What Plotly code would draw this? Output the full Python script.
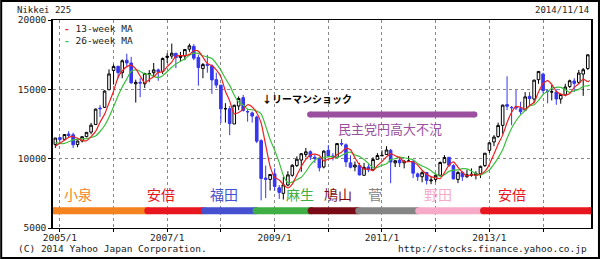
import pandas as pd
import plotly.graph_objects as go

# ---------------- data ----------------
months = pd.date_range("2004-12-01", "2014-11-01", freq="MS")  # monthly candles

open_ = [
    11030,
    11517, 11394, 11771, 11723, 11015, 11280, 11591, 11913, 12461, 13651, 13700, 14970,
    16361, 16660, 16200, 17100, 16900, 15400, 15500, 15400, 16100, 16200, 16400, 16300,
    17300, 17400, 17600, 17300, 17400, 17900, 18100, 17300, 16500, 16800, 16700, 15700,
    15300, 13600, 13600, 12500, 13800, 14400, 13400, 13300, 13000, 11300, 8600, 8500,
    8900, 7900, 7500, 8100, 8800, 9500, 9900, 10300, 10500, 10100, 10000, 9400,
    10600, 10200, 10100, 11100, 11000, 9700, 9400, 9500, 8800, 9400, 9200, 9950,
    10200, 10300, 10600, 9700, 9900, 9700, 9800, 9800, 8900, 8700, 9000, 8400,
    8500, 8800, 9700, 10100, 9500, 8500, 9000, 8700, 8800, 8800, 8900, 9500,
    10600, 11200, 11600, 12400, 13900, 13700, 13700, 13600, 13500, 14500, 14300, 15700,
    16100, 14900, 14800, 14800, 14300, 14600, 15200, 15600, 15500, 16100, 16500,
]
high = [
    11488,
    11573, 11741, 11975, 11874, 11301, 11611, 11911, 12580, 13617, 13862, 14945, 16445,
    16798, 16700, 17156, 17563, 17339, 15700, 15800, 16200, 16385, 16900, 16500, 17300,
    17617, 18300, 17600, 17700, 17900, 18297, 18261, 17500, 16900, 17488, 16800, 16200,
    15300, 14000, 13800, 13900, 14489, 14600, 13600, 13400, 13100, 11400, 9500, 8900,
    9300, 8100, 8700, 9100, 9600, 10170, 10400, 10767, 10600, 10300, 10100, 10600,
    10982, 10400, 11100, 11408, 11100, 10238, 9800, 9700, 9700, 9600, 10100, 10400,
    10600, 10900, 10700, 9900, 10100, 9900, 10200, 9900, 9000, 9100, 9000, 8700,
    8900, 9800, 10255, 10100, 9600, 9100, 9100, 9200, 9300, 9100, 9500, 10400,
    11200, 11700, 12600, 13900, 15943, 13800, 14953, 14100, 14800, 14800, 15700, 16320,
    16200, 14900, 15300, 15000, 14700, 15400, 15700, 15800, 16400, 16533, 17520,
]
low = [
    10776,
    11238, 11355, 11561, 10770, 10825, 11167, 11541, 11754, 12438, 13012, 13650, 14950,
    15341, 15800, 15800, 16655, 15400, 14045, 14437, 15100, 15513, 15950, 15615, 16100,
    16900, 17200, 16532, 17000, 17100, 17700, 17100, 15262, 15800, 16200, 14669, 15100,
    12573, 12600, 11691, 12500, 13500, 13400, 12671, 12600, 11120, 6994, 7162, 7700,
    7700, 7100, 7054, 8000, 8700, 9400, 9050, 10100, 9900, 9700, 9076, 9300,
    10100, 9867, 10050, 10900, 9400, 9300, 9091, 8807, 8800, 9027, 9100, 9950,
    10200, 10300, 8227, 9400, 9400, 9300, 9800, 8600, 8400, 8300, 8135, 8160,
    8300, 8800, 9700, 9400, 8500, 8238, 8400, 8600, 8700, 8500, 8600, 9400,
    10400, 10900, 11500, 11800, 13500, 12415, 13500, 13188, 13500, 13800, 14000, 15400,
    14700, 13995, 14200, 13885, 13964, 14500, 15100, 14800, 15400, 14529, 16400,
]
close = [
    11488,
    11387, 11740, 11668, 11008, 11276, 11584, 11899, 12413, 13574, 13606, 14872, 16111,
    16650, 16205, 17059, 16906, 15467, 15505, 15456, 16140, 16127, 16399, 16274, 17225,
    17383, 17604, 17287, 17400, 17875, 18138, 17248, 16569, 16785, 16737, 15680, 15307,
    13592, 13603, 12525, 13849, 14338, 13481, 13376, 13072, 11259, 8576, 8512, 8859,
    7994, 7568, 8109, 8828, 9522, 9958, 10356, 10492, 10133, 10034, 9345, 10546,
    10198, 10126, 11089, 11057, 9768, 9382, 9537, 8824, 9369, 9202, 9937, 10228,
    10237, 10624, 9755, 9849, 9693, 9816, 9833, 8955, 8700, 8988, 8434, 8455,
    8802, 9723, 10083, 9520, 8542, 9007, 8695, 8840, 8870, 8928, 9446, 10395,
    11139, 11559, 12398, 13861, 13775, 13677, 13668, 13389, 14456, 14328, 15662, 16291,
    14915, 14841, 14828, 14304, 14632, 15162, 15621, 15425, 16174, 16414, 17490,
]

# moving-average lines, one point per month end
ma_dates = list(pd.date_range("2004-12-01", "2014-11-01", freq="MS")) + [pd.Timestamp("2014-11-14")]
ma13 = [
    10893, 11115,
    11320, 11538, 11598, 11472, 11317, 11289, 11586, 11965, 12629, 13198, 14017, 14863,
    15878, 16322, 16638, 16723, 16477, 15959, 15476, 15700, 15908, 16222, 16267, 16633,
    16961, 17404, 17425, 17430, 17521, 17804, 17754, 17318, 16867, 16697, 16401, 15908,
    14860, 14167, 13240, 13326, 13571, 13889, 13732, 13310, 12569, 10969, 9449, 8649,
    8455, 8140, 7890, 8168, 8820, 9436, 9945, 10269, 10327, 10220, 9837, 9975,
    10030, 10290, 10471, 10757, 10638, 10069, 9562, 9248, 9243, 9132, 9503, 9789,
    10134, 10363, 10205, 10076, 9766, 9786, 9781, 9535, 9163, 8881, 8707, 8626,
    8564, 8993, 9536, 9775, 9382, 9023, 8748, 8847, 8802, 8879, 9081, 9590,
    10327, 11031, 11699, 12606, 13345, 13771, 13707, 13578, 13838, 14058, 14815, 15427,
    15623, 15349, 14861, 14658, 14588, 14699, 15138, 15403, 15740, 15550,
    15650,
]
ma26 = [
    11158, 11096,
    11106, 11216, 11357, 11396, 11428, 11444, 11529, 11641, 11959, 12392, 12991, 13746,
    14538, 15170, 15751, 16301, 16400, 16299, 16100, 16089, 15934, 15849, 15984, 16270,
    16591, 16835, 17029, 17196, 17462, 17615, 17592, 17420, 17336, 17225, 16860, 16388,
    15778, 15284, 14574, 14093, 13869, 13565, 13529, 13440, 13229, 12350, 11379, 10609,
    9712, 8795, 8270, 8312, 8480, 8663, 9057, 9544, 9882, 10083, 10053, 10151,
    10125, 10064, 10223, 10394, 10464, 10270, 10160, 9943, 9656, 9347, 9375, 9516,
    9633, 9933, 9997, 10105, 10064, 9996, 9928, 9650, 9474, 9331, 9121, 8894,
    8722, 8850, 9081, 9170, 9188, 9280, 9262, 9115, 8912, 8814, 8964, 9196,
    9603, 10056, 10644, 11466, 12188, 12735, 13156, 13461, 13804, 13882, 14197, 14632,
    14840, 15082, 15144, 15140, 14969, 14780, 14898, 14995, 15220, 15250,
    15300,
]

# prime-minister eras
era_names = ["小泉", "安倍", "福田", "麻生", "鳩山", "菅", "野田", "安倍"]
era_start = ["2004-11-20", "2006-08-22", "2007-09-11", "2008-08-28",
             "2009-09-06", "2010-07-27", "2011-09-08", "2012-11-22"]
era_end = ["2006-08-15", "2007-08-30", "2008-08-22", "2009-08-30",
           "2010-07-20", "2011-09-01", "2012-11-15", "2014-11-18"]
era_label_x = ["2005-05-03", "2006-11-23", "2008-01-24", "2009-06-25",
               "2010-03-10", "2010-11-12", "2012-01-20", "2013-06-06"]
era_colors = ["#f4821e", "#e8161e", "#4651cf", "#3fae45",
              "#7a0a16", "#858585", "#f6aac8", "#e8161e"]

year_ticks = [f"{y}-01-01" for y in range(2005, 2015)]
year_text = ["2005/1", "", "2007/1", "", "2009/1", "", "2011/1", "", "2013/1", ""]

# ---------------- figure ----------------
MONO = "DejaVu Sans Mono"
CJK = "Noto Sans CJK JP"
BLUE = "#3535f2"

fig = go.Figure()

fig.add_trace(go.Candlestick(
    x=months, open=open_, high=high, low=low, close=close,
    increasing=dict(line=dict(color="black", width=1), fillcolor="white"),
    decreasing=dict(line=dict(color=BLUE, width=1), fillcolor=BLUE),
    whiskerwidth=0, showlegend=False, hoverinfo="skip",
))
fig.add_trace(go.Scatter(x=ma_dates, y=ma26, mode="lines",
                         line=dict(color="#3cc03c", width=1.2, shape="spline", smoothing=0.6),
                         hoverinfo="skip", showlegend=False))
fig.add_trace(go.Scatter(x=ma_dates, y=ma13, mode="lines",
                         line=dict(color="#ee2020", width=1.2, shape="spline", smoothing=0.6),
                         hoverinfo="skip", showlegend=False))

BAR_Y = 6240
for name, s, e, c in zip(era_names, era_start, era_end, era_colors):
    fig.add_trace(go.Scatter(x=[s, e], y=[BAR_Y, BAR_Y], mode="lines+markers",
                             line=dict(color=c, width=7), marker=dict(color=c, size=7),
                             hoverinfo="skip", showlegend=False))
for name, lx, c in zip(era_names, era_label_x, era_colors):
    fig.add_annotation(x=lx, y=7460, xref="x", yref="y", text=name, showarrow=False,
                       font=dict(family=CJK, size=14, color=c))

# DPJ strong-yen recession bar
PURPLE = "#9a4f9f"
fig.add_trace(go.Scatter(x=["2009-08-30", "2012-09-21"], y=[13190, 13190], mode="lines+markers",
                         line=dict(color=PURPLE, width=6), marker=dict(color=PURPLE, size=6),
                         hoverinfo="skip", showlegend=False))
fig.add_annotation(x="2011-02-23", y=12170, xref="x", yref="y", text="民主党円高大不況",
                   showarrow=False, font=dict(family=CJK, size=13, color=PURPLE))
fig.add_annotation(x="2008-09-20", y=14350, xref="x", yref="y", text="<b>↓リーマンショック</b>",
                   showarrow=False, xanchor="left",
                   font=dict(family=CJK, size=10, color="black"))

W, H = 602, 259
ML, MR, MT, MB = 53, 9, 20, 31
PW, PH = W - ML - MR, H - MT - MB


def px(x):
    return (x - ML) / PW


def py(y):
    return (H - MB - y) / PH


# legend (as text)
fig.add_annotation(x=px(62), y=py(29), xref="paper", yref="paper", xanchor="left", yanchor="middle",
                   text='<span style="color:#ee2020"><b>-</b></span> 13-week MA', showarrow=False,
                   font=dict(family=MONO, size=9.5, color="#222"))
fig.add_annotation(x=px(62), y=py(41), xref="paper", yref="paper", xanchor="left", yanchor="middle",
                   text='<span style="color:#3cc03c"><b>-</b></span> 26-week MA', showarrow=False,
                   font=dict(family=MONO, size=9.5, color="#222"))

# header / footer texts
fig.add_annotation(x=px(15), y=py(10), xref="paper", yref="paper", xanchor="left", yanchor="middle",
                   text="Nikkei 225", showarrow=False, font=dict(family=MONO, size=9, color="#222"))
fig.add_annotation(x=px(593), y=py(10), xref="paper", yref="paper", xanchor="right", yanchor="middle",
                   text="2014/11/14", showarrow=False, font=dict(family=MONO, size=9, color="#222"))
fig.add_annotation(x=px(16), y=py(248), xref="paper", yref="paper", xanchor="left", yanchor="middle",
                   text="(C) 2014 Yahoo Japan Corporation.", showarrow=False,
                   font=dict(family=MONO, size=9.5, color="#222"))
fig.add_annotation(x=px(591), y=py(248), xref="paper", yref="paper", xanchor="right", yanchor="middle",
                   text="http://stocks.finance.yahoo.co.jp", showarrow=False,
                   font=dict(family=MONO, size=9.5, color="#222"))

# outer frame
fig.add_shape(type="rect", xref="paper", yref="paper",
              x0=px(1), x1=px(601), y0=py(258), y1=py(1),
              line=dict(color="black", width=2), fillcolor="rgba(0,0,0,0)")

fig.update_layout(
    width=W, height=H,
    margin=dict(l=ML, r=MR, t=MT, b=MB, pad=0),
    paper_bgcolor="white", plot_bgcolor="white",
    showlegend=False, boxgap=0.1,
    font=dict(family=MONO, size=9.5, color="#222"),
    xaxis=dict(
        type="date", range=["2004-11-15", "2014-11-23"],
        rangeslider=dict(visible=False),
        tickmode="array", tickvals=year_ticks, ticktext=year_text,
        showgrid=True, gridcolor="#888", griddash="dot", gridwidth=1,
        showline=True, linecolor="black", linewidth=1, mirror=True,
        ticks="outside", ticklen=3, tickcolor="black",
        ticklabelstandoff=-2,
        tickfont=dict(family=MONO, size=9.5, color="#222"),
        zeroline=False,
    ),
    yaxis=dict(
        range=[5000, 20000],
        tickmode="array", tickvals=[5000, 10000, 15000, 20000],
        ticktext=["5000", "10000", "15000", "20000"],
        showgrid=True, gridcolor="#888", griddash="dot", gridwidth=1,
        showline=True, linecolor="black", linewidth=1.5, mirror=True,
        ticks="outside", ticklen=3, tickcolor="black",
        tickfont=dict(family=MONO, size=9.5, color="#222"),
        zeroline=False,
    ),
)

fig.write_html("out.html")
